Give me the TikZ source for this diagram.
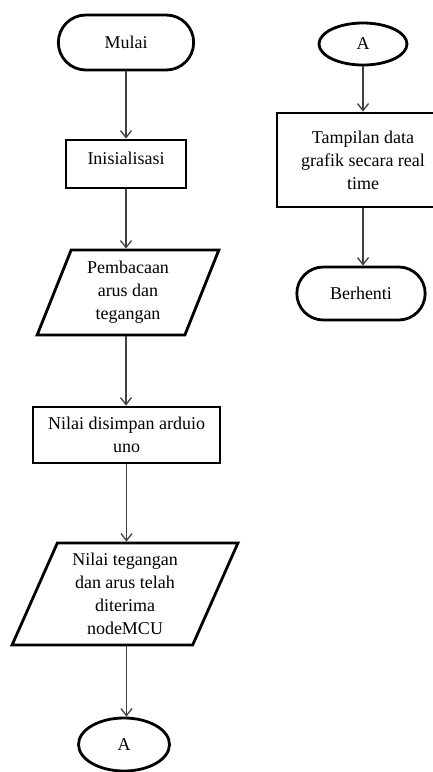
\documentclass[tikz,border=0pt]{standalone}
\usepackage{fontspec}
\setmainfont{Liberation Serif}
\usetikzlibrary{shapes.geometric,shapes.misc,arrows.meta}

\begin{document}
\begin{tikzpicture}[x=1pt,y=-1pt,
    font=\fontsize{18}{23}\selectfont,
    >={Straight Barb[length=7pt,width=11pt]},
    terminal/.style={rounded rectangle,draw,line width=2.8pt},
    proses/.style={rectangle,draw,line width=2.8pt,align=center},
    data/.style={trapezium,trapezium stretches=true,draw,line width=2.8pt,align=center},
    konektor/.style={ellipse,draw,line width=2.8pt,inner sep=0pt},
    alur/.style={->,line width=1.3pt,black!75}]

    \useasboundingbox (0,0) rectangle (433,772);

    % Draw left column
    \node[terminal,minimum width=142,minimum height=55] (mulai) at (126,42.5) {Mulai};
    \node[proses,minimum width=120,minimum height=48,text height=12.5pt,text depth=12.5pt] (init) at (126,164) {Inisialisasi};
    \node[data,minimum width=182,minimum height=85,trapezium left angle=69,trapezium right angle=111] (baca) at (128,292.5) {Pembacaan\\arus dan\\tegangan};
    \node[proses,minimum width=187,minimum height=56] (simpan) at (126.5,435) {Nilai disimpan arduio\\uno};
    \node[data,minimum width=226,minimum height=102,trapezium left angle=67,trapezium right angle=113] (terima) at (125,594) {Nilai tegangan\\dan arus telah\\diterima\\nodeMCU};
    \node[konektor,minimum width=91,minimum height=53] (konA) at (124,744.5) {A};

    % Draw right column
    \node[konektor,minimum width=88,minimum height=42] (konB) at (363,44) {A};
    \node[proses,minimum width=172,minimum height=94] (tampil) at (363,160) {Tampilan data\\grafik secara real\\time};
    \node[terminal,minimum width=135,minimum height=53] (berhenti) at (361,293.5) {Berhenti};

    % Draw arrows
    \draw[alur] (mulai.south) -- (mulai.south |- init.north);
    \draw[alur] (init.south) -- (init.south |- baca.north);
    \draw[alur] (init.south |- baca.south) -- (init.south |- simpan.north);
    \draw[alur] (simpan.south) -- (simpan.south |- terima.north);
    \draw[alur] (simpan.south |- terima.south) -- (simpan.south |- konA.north);

    \draw[alur] (konB.south) -- (konB.south |- tampil.north);
    \draw[alur] (tampil.south) -- (tampil.south |- berhenti.north);

\end{tikzpicture}
\end{document}
